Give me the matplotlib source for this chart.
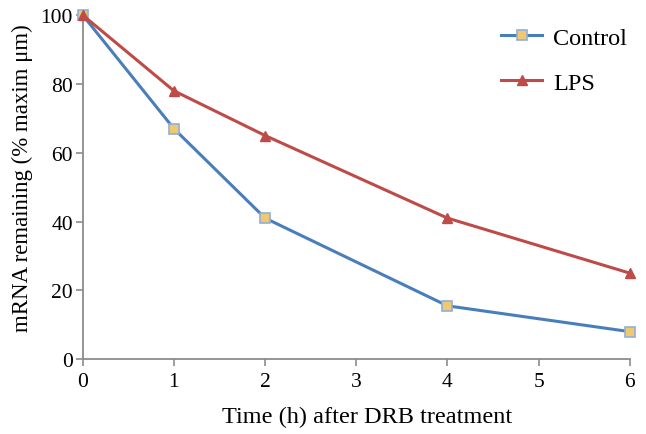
import matplotlib

matplotlib.use("Agg")

from matplotlib import pyplot as plt

# data
time_h = [0, 1, 2, 4, 6]
control = [100, 67, 41, 15.5, 8]
lps = [100, 78, 65, 41, 25]

x_ticks = [0, 1, 2, 3, 4, 5, 6]
y_ticks = [0, 20, 40, 60, 80, 100]

BLUE = "#4a7ebb"
RED = "#be4b48"
AXIS_GREY = "#8c8c8c"

plt.rcParams["font.family"] = ["Liberation Serif", "DejaVu Serif"]

fig = plt.figure(figsize=(6.46, 4.35), dpi=100)
ax = fig.add_axes([0.128, 0.172, 0.847, 0.791])

ax.plot(
    time_h, control, color=BLUE, linewidth=2.2, marker="s", markersize=6.5,
    markerfacecolor="#f2c86e", markeredgecolor="#8fb0d8", markeredgewidth=1.2,
    label="Control", clip_on=False, zorder=3,
)
ax.plot(
    time_h, lps, color=RED, linewidth=2.2, marker="^", markersize=7,
    markerfacecolor=RED, markeredgecolor=RED,
    label="LPS", clip_on=False, zorder=3,
)

ax.set_xlim(0, 6)
ax.set_ylim(0, 100)
ax.set_xticks(x_ticks)
ax.set_yticks(y_ticks)

for side in ("top", "right"):
    ax.spines[side].set_visible(False)
for side in ("left", "bottom"):
    ax.spines[side].set_color(AXIS_GREY)
    ax.spines[side].set_linewidth(1.3)

ax.tick_params(axis="both", colors=AXIS_GREY, direction="out", length=5,
               width=1.2, labelsize=15.5, labelcolor="black")
ax.tick_params(axis="x", pad=4)
ax.tick_params(axis="y", pad=2)

ax.set_xlabel("Time (h) after DRB treatment", fontsize=17.5)
ax.set_ylabel("mRNA remaining (% maxim \u03bcm)", fontsize=16.5)
ax.xaxis.set_label_coords(0.52, -0.135)
ax.yaxis.set_label_coords(-0.09, 0.53)

ax.legend(loc="upper right", bbox_to_anchor=(1.035, 1.03), frameon=False,
          fontsize=17.5, labelspacing=0.95, handlelength=1.7, handletextpad=0.45)

fig.savefig("out.png", dpi=100)
